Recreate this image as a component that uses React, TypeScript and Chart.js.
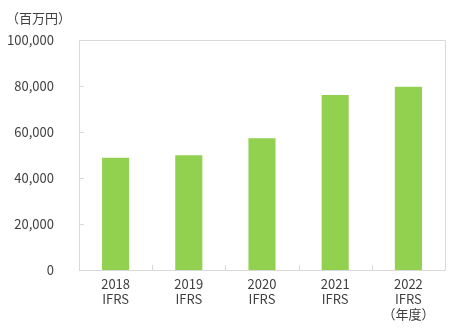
import React, { useEffect, useRef } from "react";
import { Chart, registerables } from "chart.js";

Chart.register(...registerables);

const categories: string[][] = [
  ["2018", "IFRS"],
  ["2019", "IFRS"],
  ["2020", "IFRS"],
  ["2021", "IFRS"],
  ["2022", "IFRS", "（年度）"],
];
const values: number[] = [48800, 49900, 57300, 76100, 79700];
const yTicks: number[] = [0, 20000, 40000, 60000, 80000, 100000];
const unitLabel = "（百万円）";

const FONT = "'Noto Sans CJK JP', 'Noto Sans', sans-serif";
const TEXT = "#404040";
const LINE = "#d9d9d9";

const framePlugin = {
  id: "frame",
  afterDatasetsDraw(chart: any) {
    const { ctx, chartArea } = chart;
    const { left, right, top, bottom } = chartArea;
    ctx.save();
    ctx.strokeStyle = LINE;
    ctx.lineWidth = 1;
    ctx.beginPath();
    ctx.rect(Math.round(left) + 0.5, Math.round(top) + 0.5, Math.round(right - left), Math.round(bottom - top));
    ctx.stroke();
    // y tick marks (inside)
    const y = chart.scales.y;
    ctx.beginPath();
    for (const v of yTicks) {
      const py = Math.round(y.getPixelForValue(v)) + 0.5;
      ctx.moveTo(left, py);
      ctx.lineTo(left + 5, py);
    }
    // x tick marks at category boundaries (inside)
    const x = chart.scales.x;
    for (let i = 1; i < categories.length; i++) {
      const px = Math.round((x.getPixelForTick(i - 1) + x.getPixelForTick(i)) / 2) + 0.5;
      ctx.moveTo(px, bottom);
      ctx.lineTo(px, bottom - 5);
    }
    ctx.stroke();
    // unit label
    ctx.fillStyle = TEXT;
    ctx.font = `13px ${FONT}`;
    ctx.textAlign = "left";
    ctx.textBaseline = "middle";
    ctx.fillText(unitLabel, 6, 18);
    ctx.restore();
  },
};

export default function App() {
  const ref = useRef<HTMLCanvasElement | null>(null);
  useEffect(() => {
    if (!ref.current) return;
    const chart = new Chart(ref.current, {
      type: "bar",
      data: {
        labels: categories,
        datasets: [
          {
            data: values,
            backgroundColor: "#92d050",
            borderWidth: 0,
            categoryPercentage: 1,
            barPercentage: 0.37,
          },
        ],
      },
      options: {
        animation: false,
        responsive: false,
        maintainAspectRatio: false,
        layout: { padding: { top: 40, right: 10, left: 0, bottom: 0 } },
        plugins: { legend: { display: false }, tooltip: { enabled: false } },
        scales: {
          x: {
            grid: { display: false, drawTicks: false },
            border: { display: false },
            ticks: {
              color: TEXT,
              font: { family: FONT, size: 13, lineHeight: 1.15 },
              padding: 7,
              maxRotation: 0,
              autoSkip: false,
            },
            afterFit(scale: any) {
              scale.height = 60;
            },
          },
          y: {
            min: 0,
            max: 100000,
            grid: { display: false, drawTicks: false },
            border: { display: false },
            afterBuildTicks(scale: any) {
              scale.ticks = yTicks.map((v) => ({ value: v }));
            },
            ticks: {
              color: TEXT,
              font: { family: FONT, size: 13 },
              padding: 25,
              callback: (v: any) => Number(v).toLocaleString("en-US"),
            },
            afterFit(scale: any) {
              scale.width = 79;
            },
          },
        },
      },
      plugins: [framePlugin],
    });
    return () => chart.destroy();
  }, []);
  return (
    <div style={{ position: "fixed", left: 0, top: 0, width: 455, height: 330, background: "#fff" }}>
      <canvas ref={ref} width={455} height={330} style={{ display: "block" }} />
    </div>
  );
}
